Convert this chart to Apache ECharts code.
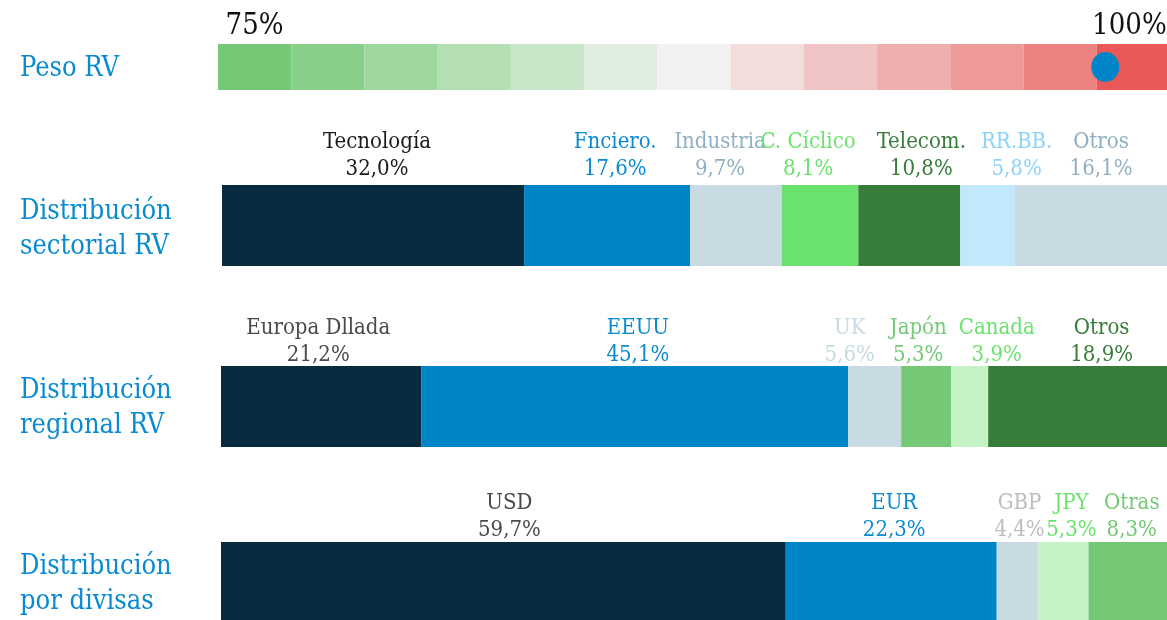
<!DOCTYPE html>
<html><head><meta charset="utf-8">
<script src="https://cdn.jsdelivr.net/npm/echarts@6/dist/echarts.min.js"></script>
<style>html,body{margin:0;padding:0;background:#fff}#c{width:1167px;height:620px}</style>
</head><body><div id="c"></div>
<script>
// ---- data ----
const pesoTicks = ['75%', '', '', '', '', '', '', '', '', '', '', '', '100%'];
const pesoMin = 75, pesoMax = 100;
const pesoValue = 98.3;

const sectorNames = ['Tecnología', 'Fnciero.', 'Industria', 'C. Cíclico', 'Telecom.', 'RR.BB.', 'Otros'];
const sectorValues = [32.0, 17.6, 9.7, 8.1, 10.8, 5.8, 16.1];

const regionNames = ['Europa Dllada', 'EEUU', 'UK', 'Japón', 'Canada', 'Otros'];
const regionValues = [21.2, 45.1, 5.6, 5.3, 3.9, 18.9];

const currencyNames = ['USD', 'EUR', 'GBP', 'JPY', 'Otras'];
const currencyValues = [59.7, 22.3, 4.4, 5.3, 8.3];

const rowTitles = ['Peso RV', 'Distribución\nsectorial RV', 'Distribución\nregional RV', 'Distribución\npor divisas'];

// ---- styles ----
const FONT = "'DejaVu Serif Condensed','DejaVu Serif',serif";
const pesoColors = ['#74c876', '#88cf89', '#9dd79d', '#b3dfb2', '#c8e6c8', '#deeddf', '#f2f2f2',
  '#f2dcdc', '#f1c5c5', '#efafae', '#ee9a98', '#ed8280', '#e95757'];
const sectorBar = ['#082b3f', '#0085c8', '#c8dae2', '#6be26d', '#377c39', '#c2e8fb', '#c8dae2'];
const sectorText = ['#1a1a1a', '#0a8ad0', '#8fb0c2', '#6be26d', '#377c39', '#8fd3fb', '#8fb0c2'];
const sectorDx = [4, 8, -16, -12, 12, 29, 10];
const regionBar = ['#082b3f', '#0085c8', '#c8dae2', '#74c876', '#c4f2c4', '#377c39'];
const regionText = ['#4a4a4a', '#0a8ad0', '#c8dae2', '#74c876', '#6be26d', '#377c39'];
const regionDx = [-3, 3, -25, -8, 27, 24];
const currencyBar = ['#082b3f', '#0085c8', '#c8dae2', '#c4f2c4', '#74c876'];
const currencyText = ['#4a4a4a', '#0a8ad0', '#bdbdbd', '#6be26d', '#74c876'];
const currencyDx = [6, 3, 2, 8, 4];

const fmt = v => v.toFixed(1).replace('.', ',') + '%';
const sum = a => a.reduce((s, v) => s + v, 0);

function rowSeries(g, names, values, barColors, textColors, dx, distance) {
  return names.map((n, i) => ({
    type: 'bar', name: n, xAxisIndex: g + 2, yAxisIndex: g + 1, stack: 'row' + g,
    barWidth: '100%', data: [values[i]],
    itemStyle: { color: barColors[i] },
    label: {
      show: true, position: 'top', distance: distance, offset: [dx[i], 0],
      formatter: () => '{n|' + n + '}\n{v|' + fmt(values[i]) + '}',
      rich: {
        n: { color: textColors[i], fontSize: 22, lineHeight: 27, fontFamily: FONT, align: 'center' },
        v: { color: textColors[i], fontSize: 22, lineHeight: 27, fontFamily: FONT, align: 'center' }
      }
    }
  }));
}

const grids = [
  { left: 218, width: 952, top: 44, height: 46, outerBoundsMode: 'none', containLabel: false },
  { left: 222, right: 0, top: 185, height: 81, outerBoundsMode: 'none' },
  { left: 221, right: 0, top: 366, height: 81, outerBoundsMode: 'none' },
  { left: 221, right: 0, top: 542, height: 81, outerBoundsMode: 'none' }
];

const hiddenVal = (g, max) => ({ type: 'value', gridIndex: g, min: 0, max: max, show: false });
const hiddenCat = g => ({ type: 'category', gridIndex: g, data: ['a'], show: false });

const option = {
  animation: false,
  backgroundColor: '#ffffff',
  title: rowTitles.map((t, i) => ({
    text: t, left: 20, top: [51, 194, 373, 549][i], padding: 0,
    textStyle: { color: '#0a8ad0', fontSize: 27, fontWeight: 'normal', fontFamily: FONT, lineHeight: 35 }
  })),
  grid: grids,
  xAxis: [
    { type: 'category', gridIndex: 0, position: 'top', data: pesoColors.map((c, i) => 'c' + i),
      axisLine: { show: false }, axisTick: { show: false }, splitLine: { show: false },
      axisLabel: { show: true, interval: 0, margin: 3, color: '#111', fontSize: 29, fontFamily: FONT,
        formatter: (v, i) => i === pesoTicks.length - 1 ? '{r|' + pesoTicks[i] + '}' : pesoTicks[i],
        rich: { r: { color: '#111', fontSize: 29, fontFamily: FONT, padding: [0, 8, 0, 0] } } } },
    { type: 'value', gridIndex: 0, min: pesoMin, max: pesoMax, show: false },
    hiddenVal(1, sum(sectorValues)),
    hiddenVal(2, sum(regionValues)),
    hiddenVal(3, sum(currencyValues))
  ],
  yAxis: [
    { type: 'value', gridIndex: 0, min: 0, max: 1, show: false },
    hiddenCat(1), hiddenCat(2), hiddenCat(3)
  ],
  series: [
    { type: 'bar', xAxisIndex: 0, yAxisIndex: 0, barWidth: '100%',
      data: pesoColors.map(c => ({ value: 1, itemStyle: { color: c } })) },
    { type: 'scatter', xAxisIndex: 1, yAxisIndex: 0, data: [[pesoValue, 0.5]],
      symbol: 'circle', symbolSize: [28, 30], itemStyle: { color: '#0085c8', opacity: 1 }, z: 5 },
    ...rowSeries(0, sectorNames, sectorValues, sectorBar, sectorText, sectorDx, 2),
    ...rowSeries(1, regionNames, regionValues, regionBar, regionText, regionDx, -3),
    ...rowSeries(2, currencyNames, currencyValues, currencyBar, currencyText, currencyDx, -2)
  ]
};

const chart = echarts.init(document.getElementById('c'), null, { renderer: 'canvas' });
chart.setOption(option);
</script></body></html>
